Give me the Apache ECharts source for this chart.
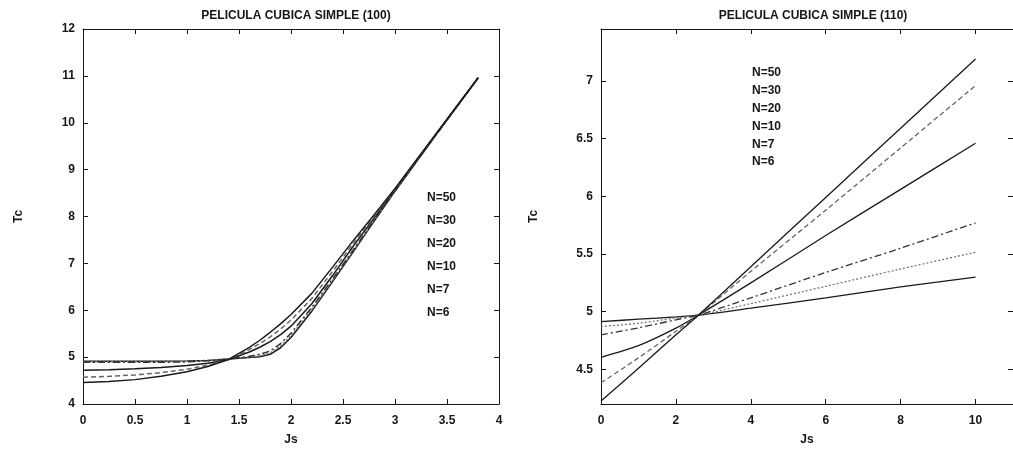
<!DOCTYPE html>
<html>
<head>
<meta charset="utf-8">
<script src="https://cdn.jsdelivr.net/npm/echarts@6/dist/echarts.min.js"></script>
<style>
  html, body { margin: 0; padding: 0; background: #fff; }
  #chart { width: 1013px; height: 451px; }
</style>
</head>
<body>
<div id="chart"></div>
<script type="text/javascript">
// curve labels (same order in both panels)
var names = ['N=50', 'N=30', 'N=20', 'N=10', 'N=7', 'N=6'];

// panel (100): Js and Tc for each N
var jsLeft = [0, 0.25, 0.5, 0.75, 1, 1.2, 1.4, 1.6, 1.7, 1.8, 1.9, 2.0, 2.2, 2.4, 2.6, 2.8, 3.0, 3.4, 3.8];
var left50 = [4.91, 4.91, 4.91, 4.91, 4.92, 4.93, 4.96, 4.99, 5.01, 5.06, 5.20, 5.42, 5.98, 6.61, 7.25, 7.90, 8.54, 9.76, 10.96];
var left30 = [4.90, 4.90, 4.90, 4.90, 4.91, 4.93, 4.96, 5.00, 5.03, 5.09, 5.24, 5.46, 6.02, 6.64, 7.27, 7.91, 8.55, 9.76, 10.96];
var left20 = [4.89, 4.89, 4.89, 4.89, 4.90, 4.92, 4.955, 5.02, 5.06, 5.13, 5.29, 5.51, 6.06, 6.67, 7.29, 7.92, 8.55, 9.76, 10.96];
var left10 = [4.72, 4.73, 4.75, 4.78, 4.82, 4.87, 4.95, 5.11, 5.21, 5.33, 5.48, 5.66, 6.14, 6.74, 7.37, 7.97, 8.57, 9.77, 10.96];
var left7 = [4.57, 4.59, 4.62, 4.67, 4.74, 4.83, 4.95, 5.16, 5.29, 5.43, 5.60, 5.79, 6.25, 6.83, 7.43, 8.01, 8.58, 9.77, 10.96];
var left6 = [4.46, 4.48, 4.52, 4.59, 4.69, 4.80, 4.95, 5.21, 5.36, 5.53, 5.71, 5.91, 6.36, 6.92, 7.49, 8.04, 8.60, 9.78, 10.96];

// panel (110)
var jsRight = [0, 1, 2, 2.6, 4, 6, 8, 10];
var right50 = [4.914, 4.935, 4.955, 4.97, 5.03, 5.12, 5.215, 5.30];
var right30 = [4.871, 4.90, 4.945, 4.97, 5.07, 5.22, 5.37, 5.515];
var right20 = [4.80, 4.86, 4.93, 4.97, 5.12, 5.34, 5.55, 5.77];
var right10 = [4.605, 4.705, 4.857, 4.97, 5.25, 5.66, 6.06, 6.46];
var right7 = [4.384, 4.60, 4.83, 4.97, 5.35, 5.88, 6.42, 6.96];
var right6 = [4.227, 4.51, 4.80, 4.97, 5.39, 5.99, 6.59, 7.19];

// tick labels
var leftXTicks = ['0', '0.5', '1', '1.5', '2', '2.5', '3', '3.5', '4'];

var font = "'Liberation Sans', Arial, sans-serif";
var ink = '#161616';

// line looks, per N
var styles = [
  { color: '#1a1a1a', type: 'solid' },
  { color: '#777', type: [2, 2] },
  { color: '#333', type: [7, 3, 2, 3] },
  { color: '#1a1a1a', type: 'solid' },
  { color: '#666', type: [5, 3] },
  { color: '#1a1a1a', type: 'solid' }
];

function zip(xs, ys) {
  return xs.map(function (x, i) { return [x, ys[i]]; });
}

var leftVals = [left50, left30, left20, left10, left7, left6];
var rightVals = [right50, right30, right20, right10, right7, right6];

var series = [];
names.forEach(function (n, i) {
  series.push({
    name: n, type: 'line', xAxisIndex: 0, yAxisIndex: 0,
    data: zip(jsLeft, leftVals[i]),
    showSymbol: false,
    lineStyle: { color: styles[i].color, type: styles[i].type, width: 1.5 },
    itemStyle: { color: styles[i].color }
  });
  series.push({
    name: n, type: 'line', xAxisIndex: 2, yAxisIndex: 2,
    data: zip(jsRight, rightVals[i]),
    showSymbol: false, smooth: 0.3,
    lineStyle: { color: styles[i].color, type: styles[i].type, width: 1.3 },
    itemStyle: { color: styles[i].color }
  });
});

var axisLine = { show: true, onZero: false, lineStyle: { color: ink, width: 1 } };
var tick = { show: true, inside: true, length: 5, lineStyle: { color: ink } };
var label = { color: ink, fontFamily: font, fontSize: 12, fontWeight: 'bold' };
var nameStyle = { fontFamily: font, fontSize: 12, fontWeight: 'bold', color: ink };

var myChart = echarts.init(document.getElementById('chart'));

option = {
  backgroundColor: '#fff',
  animation: false,
  title: [
    { text: 'PELICULA CUBICA SIMPLE (100)', left: 291, top: 5, textAlign: 'center',
      textStyle: { fontFamily: font, fontSize: 12, fontWeight: 'bold', color: ink } },
    { text: 'PELICULA CUBICA SIMPLE (110)', left: 808, top: 5, textAlign: 'center',
      textStyle: { fontFamily: font, fontSize: 12, fontWeight: 'bold', color: ink } }
  ],
  legend: [
    { data: names, orient: 'vertical', left: 417, top: 187, icon: 'none',
      itemWidth: 0, itemHeight: 12, itemGap: 11, selectedMode: false,
      textStyle: { fontFamily: font, fontSize: 12, fontWeight: 'bold', color: ink, lineHeight: 12 } },
    { data: names, orient: 'vertical', left: 742, top: 62, icon: 'none',
      itemWidth: 0, itemHeight: 12, itemGap: 5.8, selectedMode: false,
      textStyle: { fontFamily: font, fontSize: 12, fontWeight: 'bold', color: ink, lineHeight: 12 } }
  ],
  grid: [
    { left: 83, top: 29, right: 514, bottom: 45 },
    { left: 601, top: 29, right: -5, bottom: 44 }
  ],
  xAxis: [
    { type: 'value', gridIndex: 0, min: 0, max: 4, interval: 0.5,
      name: 'Js', nameLocation: 'middle', nameGap: 30, nameTextStyle: nameStyle,
      axisLine: axisLine, axisTick: tick, splitLine: { show: false },
      axisLabel: Object.assign({ margin: 11, formatter: function (v) {
        return leftXTicks[Math.round(v * 2)];
      } }, label) },
    { type: 'value', gridIndex: 0, position: 'top', min: 0, max: 4, interval: 0.5,
      axisLine: axisLine, axisTick: tick, splitLine: { show: false }, axisLabel: { show: false } },
    { type: 'value', gridIndex: 1, min: 0, max: 11, interval: 2,
      name: 'Js', nameLocation: 'middle', nameGap: 30, nameTextStyle: nameStyle,
      axisLine: axisLine, axisTick: tick, splitLine: { show: false },
      axisLabel: Object.assign({ margin: 11, showMaxLabel: false }, label) },
    { type: 'value', gridIndex: 1, position: 'top', min: 0, max: 11, interval: 2,
      axisLine: axisLine, axisTick: tick, splitLine: { show: false }, axisLabel: { show: false } }
  ],
  yAxis: [
    { type: 'value', gridIndex: 0, min: 4, max: 12, interval: 1,
      name: 'Tc', nameLocation: 'middle', nameGap: 58, nameRotate: 90, nameTextStyle: nameStyle,
      axisLine: axisLine, axisTick: tick, splitLine: { show: false },
      axisLabel: Object.assign({ margin: 8 }, label) },
    { type: 'value', gridIndex: 0, position: 'right', min: 4, max: 12, interval: 1,
      axisLine: axisLine, axisTick: tick, splitLine: { show: false }, axisLabel: { show: false } },
    { type: 'value', gridIndex: 1, min: 4.2, max: 7.45, splitNumber: 5,
      name: 'Tc', nameLocation: 'middle', nameGap: 61, nameRotate: 90, nameTextStyle: nameStyle,
      axisLine: axisLine, axisTick: tick, splitLine: { show: false },
      axisLabel: Object.assign({ margin: 8, showMinLabel: false, showMaxLabel: false }, label) },
    { type: 'value', gridIndex: 1, position: 'right', min: 4.2, max: 7.45, splitNumber: 5,
      axisLine: axisLine, axisTick: tick, splitLine: { show: false }, axisLabel: { show: false } }
  ],
  series: series
};

myChart.setOption(option);
</script>
</body>
</html>
